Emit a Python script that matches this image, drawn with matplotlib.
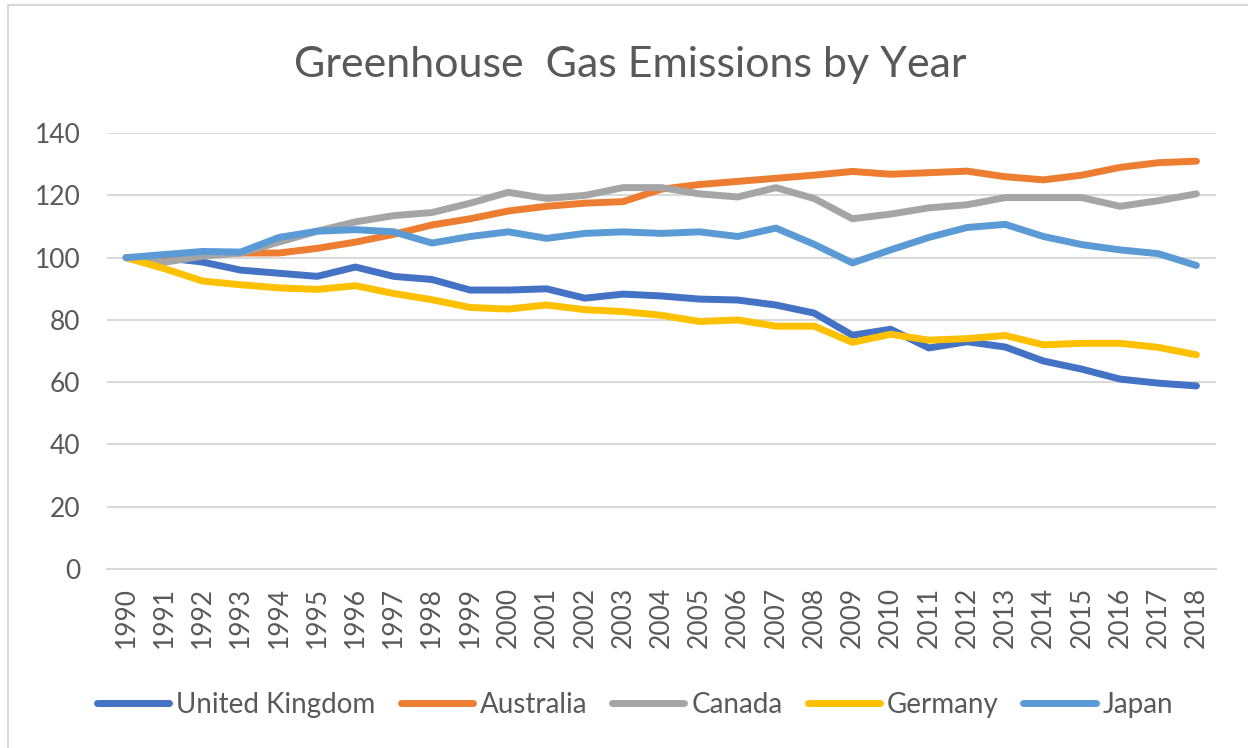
import matplotlib
matplotlib.use("Agg")
import matplotlib.pyplot as plt
from matplotlib.lines import Line2D

plt.rcParams['font.family'] = ['Lato', 'DejaVu Sans']

years = list(range(1990, 2019))
uk = [100, 100, 98.6, 96, 95, 94, 97, 94, 93, 89.6, 89.6, 90, 87, 88.3, 87.7,
      86.7, 86.4, 84.8, 82.2, 75.1, 77, 71, 73, 71.3, 66.8, 64.2, 61, 59.7, 58.8]
australia = [100, 100, 101, 101.5, 101.5, 103, 105, 107.5, 110.5, 112.5, 115, 116.5,
             117.5, 118, 122, 123.5, 124.5, 125.5, 126.5, 127.7, 126.8, 127.3, 127.8,
             126, 125, 126.5, 129, 130.5, 131]
canada = [100, 98.5, 100.5, 101.5, 105, 108.5, 111.5, 113.5, 114.5, 117.5, 121, 119,
          120, 122.5, 122.5, 120.5, 119.5, 122.5, 119, 112.5, 114, 116, 117, 119.3,
          119.3, 119.3, 116.5, 118.3, 120.5]
germany = [100, 96.5, 92.5, 91.3, 90.3, 89.8, 91, 88.5, 86.5, 84, 83.5, 84.8, 83.3,
           82.7, 81.5, 79.5, 80, 78, 78, 72.8, 75.4, 73.5, 74, 75, 72, 72.5, 72.5,
           71.2, 68.8]
japan = [100, 101, 102, 101.8, 106.5, 108.5, 109, 108.3, 104.7, 106.8, 108.3, 106.2,
         107.8, 108.3, 107.8, 108.3, 106.8, 109.5, 104.3, 98.3, 102.5, 106.5, 109.7,
         110.7, 106.8, 104.2, 102.5, 101.3, 97.5]

series = [("United Kingdom", uk, "#4472c4"),
          ("Australia", australia, "#ed7d31"),
          ("Canada", canada, "#a5a5a5"),
          ("Germany", germany, "#ffc000"),
          ("Japan", japan, "#5b9bd5")]

txt = "#595959"
grid = "#d9d9d9"

fig = plt.figure(figsize=(12.48, 7.48), dpi=100)
ax = fig.add_axes([0.0857, 0.2393, 0.8883, 0.5827])

x = list(range(len(years)))
for name, vals, col in series:
    ax.plot(x, vals, color=col, lw=5, label=name, solid_capstyle='round',
            solid_joinstyle='round')

ax.set_xlim(-0.5, len(years) - 0.5)
ax.set_ylim(0, 140)
ax.set_yticks(range(0, 141, 20))
ax.set_xticks(x)
ax.set_xticklabels([str(y) for y in years], rotation=90)
ax.yaxis.grid(True, color=grid, lw=1.5)
ax.set_axisbelow(True)
for s in ['top', 'right', 'left']:
    ax.spines[s].set_visible(False)
ax.spines['bottom'].set_color(grid)
ax.spines['bottom'].set_linewidth(1.5)
ax.tick_params(axis='both', length=0, colors=txt, labelsize=19)
ax.tick_params(axis='y', pad=19)
ax.tick_params(axis='x', pad=13)

fig.text(0.505, 0.913, "Greenhouse  Gas Emissions by Year", ha='center', va='center',
         fontsize=31, color=txt)

leg = fig.legend(loc='center', bbox_to_anchor=(0.509, 0.0575), ncol=5, frameon=False,
                 fontsize=20, handlelength=2.6, columnspacing=0.9, handletextpad=0.25)
for t in leg.get_texts():
    t.set_color(txt)

# chart border
fig.add_artist(Line2D([8 / 1248, 8 / 1248], [0, 1 - 5 / 748], color=grid, lw=1.5))
fig.add_artist(Line2D([8 / 1248, 1], [1 - 5 / 748, 1 - 5 / 748], color=grid, lw=1.5))

fig.savefig("out.png", dpi=100)
